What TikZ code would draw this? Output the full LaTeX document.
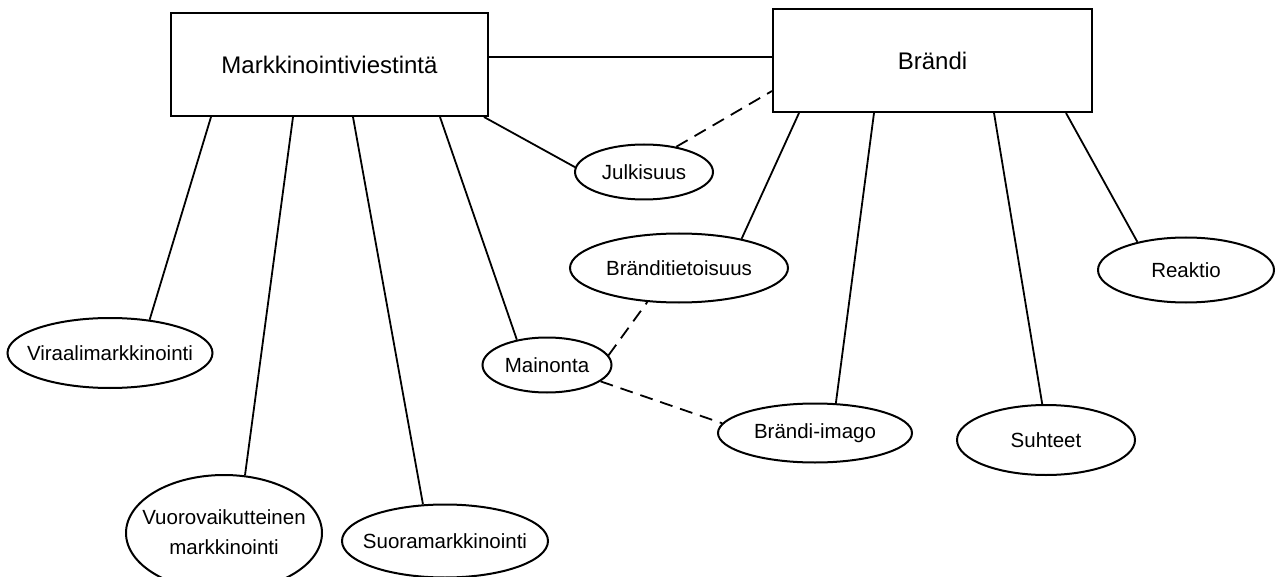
\documentclass[tikz,border=0pt]{standalone}
\usepackage{fontspec}
\setmainfont{Liberation Sans}
\usetikzlibrary{shapes.geometric}
\begin{document}
\begin{tikzpicture}[x=1pt,y=-1pt]
\tikzset{
  bx/.style={draw, line width=2pt, rectangle, inner sep=0pt, font=\fontsize{24}{28}\selectfont},
  el/.style={draw, line width=2pt, ellipse, inner sep=0pt, font=\fontsize{20.5}{30}\selectfont},
  ln/.style={line width=1.8pt},
  dl/.style={line width=1.8pt, dash pattern=on 13pt off 8pt},
}
\fill[white] (0,0) rectangle (1279,577);
\useasboundingbox (0,0) rectangle (1279,577);

\node[bx, minimum width=317pt, minimum height=103pt] (m) at (329.5,64.5) {Markkinointiviestintä};
\node[bx, minimum width=319pt, minimum height=103pt] (b) at (932.5,60.5) {Brändi};

\node[el, minimum width=138pt, minimum height=55pt] (jul) at (644,172) {\makebox[0pt]{Julkisuus}};
\node[el, minimum width=218pt, minimum height=69pt] (bt) at (679,268) {\makebox[0pt]{Bränditietoisuus}};
\node[el, minimum width=176pt, minimum height=65pt] (rea) at (1186,270) {\makebox[0pt]{Reaktio}};
\node[el, minimum width=205pt, minimum height=70pt] (vir) at (110,353) {\makebox[0pt]{Viraalimarkkinointi}};
\node[el, minimum width=129pt, minimum height=55pt] (mai) at (547,365) {\makebox[0pt]{Mainonta}};
\node[el, minimum width=194pt, minimum height=59pt] (bi) at (815,433) {\makebox[0pt]{Brändi-imago}};
\node[el, minimum width=178pt, minimum height=70pt] (suh) at (1046,440) {\makebox[0pt]{Suhteet}};
\node[el, minimum width=196pt, minimum height=116pt] (vuo) at (224,533) {\makebox[0pt]{\begin{tabular}{@{}c@{}}Vuorovaikutteinen\\markkinointi\end{tabular}}};
\node[el, minimum width=206pt, minimum height=73pt] (suo) at (445,541) {\makebox[0pt]{Suoramarkkinointi}};

\draw[ln] ([yshift=3.5pt]b.west -| m.east) -- ([yshift=3.5pt]b.west);
\draw[ln] ([xshift=41pt]m.south west) -- (vir.40);
\draw[ln] ([xshift=123pt]m.south west) -- (vuo.70);
\draw[ln] ([xshift=183pt]m.south west) -- (suo.121);
\draw[ln] ([xshift=270pt]m.south west) -- (mai.140);
\draw[ln] ([xshift=-5pt]m.south east) -- (jul.176);
\draw[dl] (jul.38) -- ([yshift=22pt]b.south west);
\draw[ln] ([xshift=27pt]b.south west) -- (bt.25);
\draw[ln] ([xshift=102pt]b.south west) -- (bi.55);
\draw[ln] ([xshift=222pt]b.south west) -- (suh.96);
\draw[ln] ([xshift=294pt]b.south west) -- (rea.150);
\draw[dl] (mai.9) -- (bt.227);
\draw[dl] (mai.343) -- (bi.174);
\end{tikzpicture}
\end{document}
